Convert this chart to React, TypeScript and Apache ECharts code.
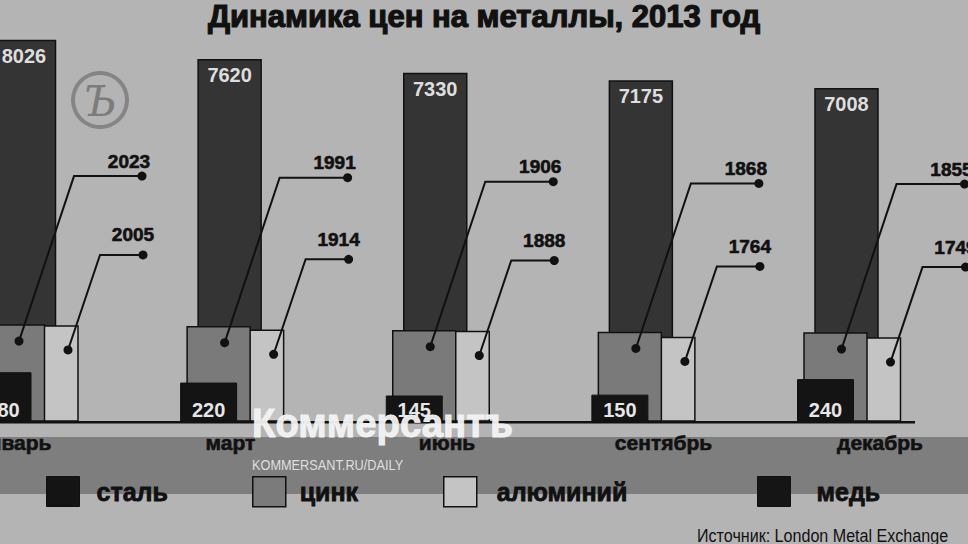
import React, { useEffect, useRef } from "react";
import * as echarts from "echarts";

// ---- data ----
const months = ["январь", "март", "июнь", "сентябрь", "декабрь"];
const copper = [8026, 7620, 7330, 7175, 7008];
const zinc = [2023, 1991, 1906, 1868, 1855];
const aluminium = [2005, 1914, 1888, 1764, 1749];
const steel = [280, 220, 145, 150, 240];
const names = { steel: "сталь", zinc: "цинк", aluminium: "алюминий", copper: "медь" };
const titleText = "Динамика цен на металлы, 2013 год";
const sourceText = "Источник: London Metal Exchange";

const FONT = '"Liberation Sans", Arial, sans-serif';
const INK = "#111111";

type BarOpts = {
  offset: number;
  width: number;
  fill: string;
  stroke: string;
  lineWidth: number;
  yAxisIndex?: number;
  z: number;
  label?: "top" | "bottom";
  labelColor?: string;
};

function barSeries(name: string, values: number[], o: BarOpts) {
  return {
    type: "custom",
    name,
    xAxisIndex: 0,
    yAxisIndex: o.yAxisIndex ?? 0,
    z: o.z,
    silent: true,
    itemStyle: { color: o.fill },
    data: values.map((v, i) => [i, v]),
    renderItem: (_p: any, api: any) => {
      const i = api.value(0);
      const v = api.value(1);
      const base = api.coord([i, 0]);
      const top = api.coord([i, v]);
      const cx = base[0] + o.offset;
      const children: any[] = [
        {
          type: "rect",
          shape: { x: cx - o.width / 2, y: top[1], width: o.width, height: base[1] - top[1] },
          style: { fill: o.fill, stroke: o.stroke, lineWidth: o.lineWidth },
        },
      ];
      if (o.label) {
        const ty = o.label === "top" ? top[1] + 15 : base[1] - 11;
        children.push({
          type: "text",
          style: {
            text: String(v),
            x: cx,
            y: ty,
            fill: o.labelColor,
            font: `bold 20px ${FONT}`,
            align: "center",
            verticalAlign: "middle",
            textAlign: "center",
            textVerticalAlign: "middle",
          },
        });
      }
      return { type: "group", children };
    },
  };
}

type LeaderOpts = {
  dotDx: number;
  dotDy: number;
  run: number;
  rise: number;
  tail: number;
  labelDx: number;
  labelDy: number;
};

function leaderSeries(name: string, values: number[], L: LeaderOpts) {
  return {
    type: "custom",
    name,
    xAxisIndex: 0,
    yAxisIndex: 0,
    z: 30,
    silent: true,
    data: values.map((v, i) => [i, v]),
    renderItem: (_p: any, api: any) => {
      const i = api.value(0);
      const v = api.value(1);
      const base = api.coord([i, 0]);
      const top = api.coord([i, v]);
      const dx = base[0] + L.dotDx;
      const dy = top[1] + L.dotDy;
      const ex = dx + L.run;
      const ey = dy - L.rise;
      const endX = ex + L.tail;
      return {
        type: "group",
        children: [
          {
            type: "polyline",
            shape: { points: [[dx, dy], [ex, ey], [endX, ey]] },
            style: { stroke: INK, lineWidth: 2, fill: null },
          },
          { type: "circle", shape: { cx: dx, cy: dy, r: 4.5 }, style: { fill: INK } },
          { type: "circle", shape: { cx: endX, cy: ey, r: 4.5 }, style: { fill: INK } },
          {
            type: "text",
            style: {
              text: String(v),
              x: endX + L.labelDx,
              y: ey - L.labelDy,
              fill: INK,
              font: `bold 19px ${FONT}`,
              stroke: INK,
              lineWidth: 0.6,
              align: "center",
              verticalAlign: "middle",
              textAlign: "center",
              textVerticalAlign: "middle",
            },
          },
        ],
      };
    },
  };
}

const legendItems = [
  { name: names.steel, left: 46, pad: 12, itemStyle: { color: "#141414", borderColor: INK, borderWidth: 1 } },
  { name: names.zinc, left: 252, pad: 9, itemStyle: { color: "#7b7b7b", borderColor: INK, borderWidth: 1.5 } },
  { name: names.aluminium, left: 443, pad: 15, itemStyle: { color: "#c4c4c4", borderColor: INK, borderWidth: 1.5 } },
  { name: names.copper, left: 757, pad: 21, itemStyle: { color: "#151515", borderColor: INK, borderWidth: 1 } },
];

export default function App() {
  const ref = useRef<HTMLDivElement>(null);
  useEffect(() => {
    if (!ref.current) return;
    const chart = echarts.init(ref.current, null, { renderer: "svg" });
    chart.setOption({
      animation: false,
      backgroundColor: "#b4b4b4",
      title: {
        text: titleText,
        left: "center",
        top: -4,
        textStyle: {
          fontSize: 31,
          fontWeight: "bold",
          fontFamily: FONT,
          color: INK,
          textBorderColor: INK,
          textBorderWidth: 1.2,
        },
      },
      legend: legendItems.map((l) => ({
        data: [{ name: l.name, itemStyle: l.itemStyle }],
        left: l.left,
        top: 476,
        padding: 0,
        itemWidth: 33,
        itemHeight: 30,
        icon: "rect",
        selectedMode: false,
        textStyle: {
          fontSize: 25,
          fontWeight: "bold",
          fontFamily: FONT,
          color: INK,
          textBorderColor: INK,
          textBorderWidth: 0.8,
          padding: [0, 0, 10, l.pad],
        },
      })),
      grid: [
        { left: 24, right: 121.5, top: 21, bottom: 123, outerBoundsMode: "none" },
        { left: 14, right: 88, top: 21, bottom: 123, outerBoundsMode: "none" },
      ],
      xAxis: [
        { gridIndex: 0, type: "category", data: months, boundaryGap: false, show: false },
        {
          gridIndex: 1,
          type: "category",
          data: months,
          boundaryGap: false,
          axisLine: { show: false },
          axisTick: { show: false },
          splitLine: { show: false },
          axisLabel: {
            interval: 0,
            margin: 11,
            fontSize: 21,
            fontWeight: "bold",
            fontFamily: FONT,
            color: INK,
            textBorderColor: INK,
            textBorderWidth: 0.6,
          },
        },
      ],
      yAxis: [
        { gridIndex: 0, type: "value", min: 0, max: 8440, show: false },
        { gridIndex: 0, type: "value", min: 0, max: 2320, show: false },
        { gridIndex: 1, type: "value", min: 0, max: 1, show: false },
      ],
      series: [
        barSeries(names.copper, copper, {
          offset: 0, width: 63, fill: "#343434", stroke: INK, lineWidth: 1.5, z: 2,
          label: "top", labelColor: "#dedede",
        }),
        barSeries(names.aluminium, aluminium, {
          offset: 22.5, width: 63, fill: "#c4c4c4", stroke: INK, lineWidth: 1.5, z: 3,
        }),
        barSeries(names.zinc, zinc, {
          offset: -11, width: 63, fill: "#7a7a7a", stroke: INK, lineWidth: 1.5, z: 4,
        }),
        barSeries(names.steel, steel, {
          offset: -21, width: 56, fill: "#141414", stroke: INK, lineWidth: 1, z: 5, yAxisIndex: 1,
          label: "bottom", labelColor: "#e6e6e6",
        }),
        leaderSeries(names.zinc, zinc, { dotDx: -5, dotDy: 16, run: 55, rise: 165, tail: 68, labelDx: -13, labelDy: 15 }),
        leaderSeries(names.aluminium, aluminium, { dotDx: 44, dotDy: 24, run: 32, rise: 95, tail: 43, labelDx: -10, labelDy: 20 }),
      ],
      graphic: [
        { type: "rect", z: -1, shape: { x: 0, y: 437, width: 968, height: 57 }, style: { fill: "#7e7e7e" } },
        { type: "rect", z: 50, shape: { x: 0, y: 421, width: 915, height: 2.5 }, style: { fill: INK } },
        { type: "ring", z: 1, shape: { cx: 100, cy: 100, r: 29, r0: 25 }, style: { fill: "#858585" } },
        {
          type: "text", z: 1, x: 100, y: 101,
          style: {
            text: "Ъ", fill: "#7c7c7c", font: 'italic 42px "DejaVu Serif", serif',
            align: "center", verticalAlign: "middle", textAlign: "center", textVerticalAlign: "middle",
          },
        },
        {
          type: "text", z: 100, x: 252, y: 423, scaleX: 0.96,
          style: {
            text: "Коммерсантъ", fill: "#f4f4f4", opacity: 0.95, font: `bold 40px ${FONT}`,
            stroke: "#f4f4f4", lineWidth: 1,
            align: "left", verticalAlign: "middle", textAlign: "left", textVerticalAlign: "middle",
          },
        },
        {
          type: "text", z: 100, x: 252, y: 465, scaleX: 0.85,
          style: {
            text: "KOMMERSANT.RU/DAILY", fill: "#dedede", font: `15px ${FONT}`,
            align: "left", verticalAlign: "middle", textAlign: "left", textVerticalAlign: "middle",
          },
        },
        {
          type: "text", z: 100, x: 697, y: 536, scaleX: 0.87,
          style: {
            text: sourceText, fill: INK, font: `18.5px ${FONT}`,
            align: "left", verticalAlign: "middle", textAlign: "left", textVerticalAlign: "middle",
          },
        },
      ],
    });
    return () => chart.dispose();
  }, []);
  return (
    <div
      ref={ref}
      style={{ position: "fixed", left: 0, top: 0, width: 968, height: 544 }}
    />
  );
}
